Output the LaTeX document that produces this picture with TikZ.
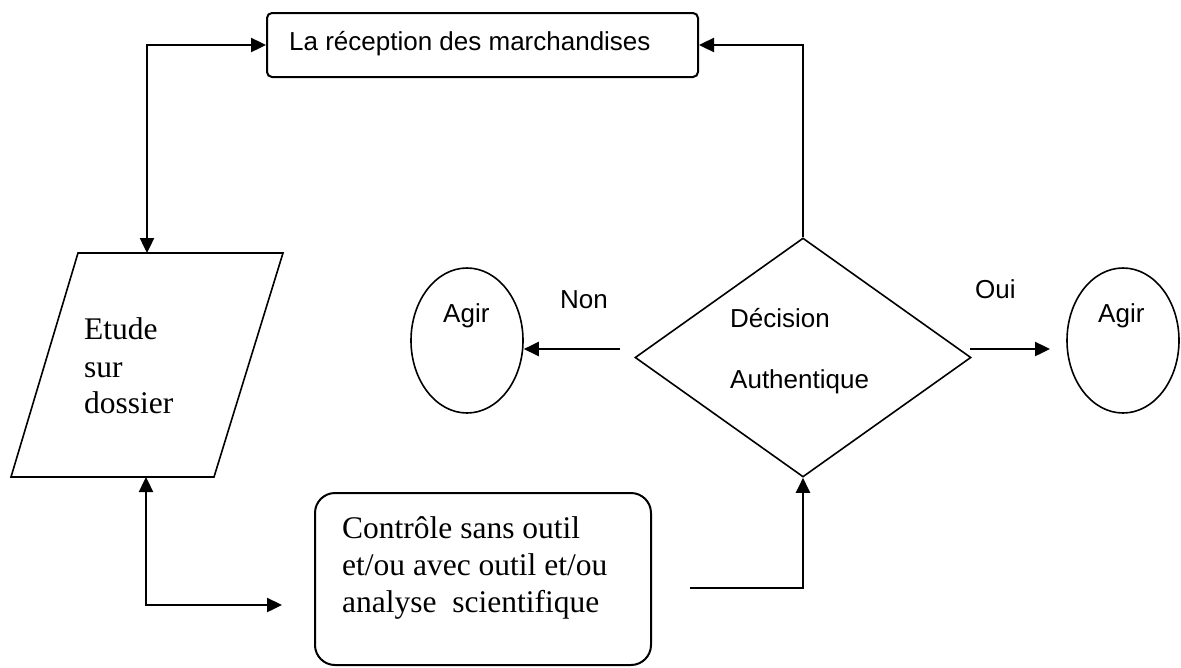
\documentclass[tikz,border=0pt]{standalone}
\usepackage{fontspec}
\setmainfont{Liberation Serif}
\newfontfamily\arialfont{Liberation Sans}
\usetikzlibrary{arrows.meta,shapes.geometric}
\begin{document}
\begin{tikzpicture}[x=1pt,y=-1pt,
  conn/.style={line width=2.4pt},
  tipend/.style={-{Triangle[length=15pt,width=14pt]}},
  tipboth/.style={{Triangle[length=15pt,width=14pt]}-{Triangle[length=15pt,width=14pt]}},
  shapeline/.style={draw,line width=1.6pt,inner sep=0pt},
  boxline/.style={draw,line width=2pt,inner sep=0pt},
  sanstext/.style={font=\arialfont\fontsize{26}{31}\selectfont,inner sep=0pt,anchor=base west},
  seriftext/.style={font=\fontsize{31.5}{37}\selectfont,inner sep=0pt,anchor=base west}]
\useasboundingbox (0,0) rectangle (1181,667);
\fill[white] (0,0) rectangle (1181,667);

% top box
\node[boxline, rounded corners=5pt, minimum width=431pt, minimum height=64pt] (recep) at (482.5,45) {};
\node[sanstext] (trecep) at (289,50) {La réception des marchandises};

% parallelogram
\coordinate (p1) at (78,253);
\coordinate (p2) at (283,253);
\coordinate (p3) at (214,477);
\coordinate (p4) at (11,477);
\draw[line width=1.6pt] (p1) -- (p2) -- (p3) -- (p4) -- cycle;
\coordinate (ptop) at (147,253);
\coordinate (pbot) at (146,477);
\node[seriftext] (et1) at (84,339) {Etude};
\node[seriftext] (et2) at (84,377) {sur};
\node[seriftext] (et3) at (84,413) {dossier};

% control box
\node[boxline, rounded corners=20pt, minimum width=336pt, minimum height=172pt] (ctrl) at (483,579) {};
\node[seriftext] (ct1) at (342,538) {Contrôle sans outil};
\node[seriftext] (ct2) at (342,575) {et/ou avec outil et/ou};
\node[seriftext] (ct3) at (342,612) {analyse\ \ scientifique};

% decision diamond
\node[shapeline, diamond, aspect=1.4, minimum width=336pt, minimum height=239pt] (dec) at (803,357.5) {};
\node[sanstext] (td1) at (730,327) {Décision};
\node[sanstext] (td2) at (730,388) {Authentique};

% ellipses
\node[shapeline, ellipse, minimum width=112pt, minimum height=145pt] (agirL) at (467,340.5) {};
\node[shapeline, ellipse, minimum width=112pt, minimum height=145pt] (agirR) at (1123,340.5) {};
\node[sanstext] (tal) at (443,322) {Agir};
\node[sanstext] (tar) at (1098,322) {Agir};

% labels
\node[sanstext] (non) at (560,308) {Non};
\node[sanstext] (oui) at (975,298) {Oui};

% connectors
\draw[conn, tipboth] (recep.west) -| (ptop);
\coordinate (a1) at (282,605);
\draw[conn, tipboth] (pbot) |- (a1);
\coordinate (c2) at (690,588);
\draw[conn, tipend] (c2) -| (dec.south);
\draw[conn, tipend] (dec.north) |- (recep.east);
\coordinate (n1) at (620,349);
\draw[conn, tipend] (n1) -- (agirL.east |- n1);
\coordinate (o1) at (970,349);
\coordinate (o2) at (1050,349);
\draw[conn, tipend] (o1) -- (o2);
\end{tikzpicture}
\end{document}
